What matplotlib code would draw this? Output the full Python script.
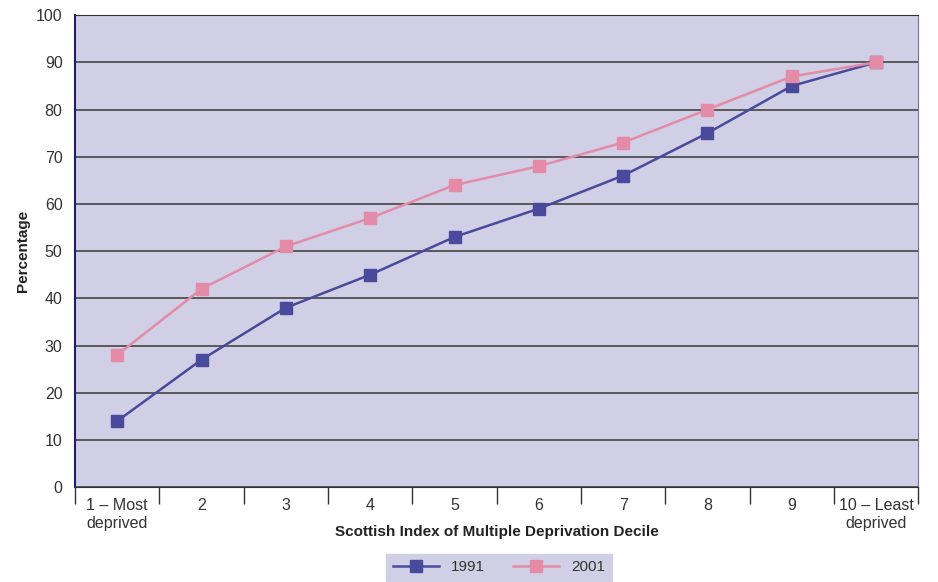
import matplotlib.pyplot as plt
import numpy as np

plt.rcParams['font.family'] = ['Liberation Sans', 'DejaVu Sans']

deciles = ['1 – Most\ndeprived', '2', '3', '4', '5', '6', '7', '8', '9', '10 – Least\ndeprived']
pct_1991 = [14, 27, 38, 45, 53, 59, 66, 75, 85, 90]
pct_2001 = [28, 42, 51, 57, 64, 68, 73, 80, 87, 90]

bg = '#d0cfe5'
col_1991 = '#4a4a9c'
col_2001 = '#e48ba8'

fig = plt.figure(figsize=(9.38, 5.82), dpi=100)
ax = fig.add_axes([0.080, 0.163, 0.899, 0.811])
ax.set_facecolor(bg)

x = np.arange(len(deciles))
l91, = ax.plot(x, pct_1991, color=col_1991, lw=1.8, marker='s', ms=8, label='1991')
l01, = ax.plot(x, pct_2001, color=col_2001, lw=1.8, marker='s', ms=8, label='2001')

ax.set_xlim(-0.5, len(deciles) - 0.5)
ax.set_ylim(0, 100)
ax.set_yticks(range(0, 101, 10))
ax.yaxis.grid(True, color='#444444', lw=1.2)
ax.set_axisbelow(True)
ax.tick_params(axis='y', length=0, labelsize=11.5, colors='#333333', pad=9)

ax.set_xticks(x)
ax.set_xticklabels(deciles)
ax.set_xticks(np.arange(-0.5, len(deciles), 1), minor=True)
ax.tick_params(axis='x', which='major', length=0, labelsize=11.5, colors='#333333', pad=8)
ax.tick_params(axis='x', which='minor', length=12, width=1, color='#333333', direction='out')

for side in ['top', 'bottom']:
    ax.spines[side].set_color('#333333')
ax.spines['left'].set_color('#1e1e6e')
ax.spines['left'].set_linewidth(1.5)
ax.spines['right'].set_color('#7070b8')

ax.set_ylabel('Percentage', fontsize=11, fontweight='bold', color='#222222', labelpad=4)
ax.set_xlabel('Scottish Index of Multiple Deprivation Decile', fontsize=11,
              fontweight='bold', color='#222222')
# the title sits beside the second line of the end labels
ax.xaxis.set_label_coords(0.5, -0.081)

leg = fig.legend([l91, l01], ['1991', '2001'], loc='lower center', ncol=2,
                 bbox_to_anchor=(0.532, -0.012), frameon=True, fontsize=11,
                 handlelength=3, columnspacing=1.8, borderpad=0.45)
leg.get_frame().set_facecolor(bg)
leg.get_frame().set_edgecolor(bg)
leg.get_frame().set_alpha(1)
leg.get_frame().set_boxstyle('square', pad=0)
for t in leg.get_texts():
    t.set_color('#333333')

fig.savefig('out.png', dpi=100)
